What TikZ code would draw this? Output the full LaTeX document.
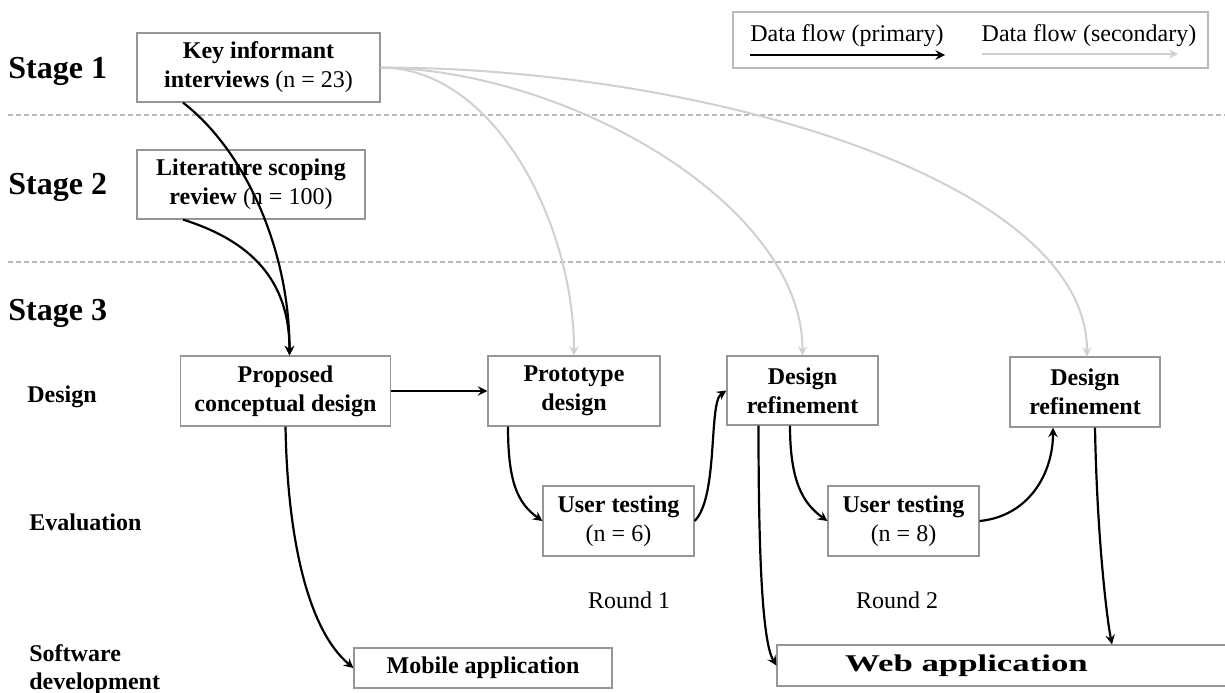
\documentclass[tikz,border=0pt]{standalone}
\usepackage{fontspec}
\setmainfont{Liberation Serif}
\usepackage{graphicx}

\definecolor{boxgray}{RGB}{150,150,150}
\definecolor{flowgray}{RGB}{208,208,208}
\definecolor{sepgray}{RGB}{185,185,185}

\tikzset{
  box/.style={draw=boxgray, line width=0.6pt, fill=white, align=center,
    inner sep=2pt, font=\fontsize{12}{14.5}\selectfont},
  primary/.style={-stealth, line width=1.1pt, black},
  secondary/.style={-stealth, line width=1pt, flowgray},
  sepline/.style={sepgray, line width=0.6pt, dash pattern=on 2.5pt off 1.5pt},
  stagelabel/.style={font=\fontsize{16}{19}\selectfont\bfseries, anchor=base west, inner sep=0pt},
  phaselabel/.style={font=\fontsize{12}{14}\selectfont\bfseries, inner sep=0pt, align=left},
  plain/.style={font=\fontsize{12}{14.5}\selectfont, inner sep=0pt}
}

\begin{document}
\begin{tikzpicture}[x=0.5pt, y=-0.5pt]
\useasboundingbox (0,0) rectangle (1225,692);

% stage separators
\draw[sepline] (8,115) -- (1225,115);
\draw[sepline] (8,262) -- (1225,262);

% row labels
\node[stagelabel] (stA) at (8,78) {Stage 1};
\node[stagelabel] (stB) at (8,194) {Stage 2};
\node[stagelabel] (stC) at (8,320) {Stage 3};
\node[phaselabel, anchor=base west] (design) at (27,402) {Design};
\node[phaselabel, anchor=base west] (eval) at (29,530) {Evaluation};
\node[phaselabel, anchor=west] (soft) at (29,670) {Software\\development};

% legend
\node[draw=sepgray, line width=0.6pt, minimum width=237.5pt, minimum height=28pt] (legend) at (970.5,40) {};
\node[plain] (legPri) at (847,36) {Data flow (primary)};
\node[plain] (legSec) at (1089,36) {Data flow (secondary)};
\coordinate (lpA) at (750,55);
\coordinate (lpB) at (945,55);
\coordinate (lsA) at (982,54);
\coordinate (lsB) at (1178,54);
\draw[primary] (lpA) -- (lpB);
\draw[secondary] (lsA) -- (lsB);

% boxes
\node[box, minimum width=121.5pt, minimum height=34.5pt] (key) at (258.5,67.5)
  {\textbf{Key informant}\\\textbf{interviews} (n = 23)};
\node[box, minimum width=114pt, minimum height=34.5pt] (lit) at (251,184.5)
  {\textbf{Literature scoping}\\\textbf{review} (n = 100)};
\node[box, minimum width=105pt, minimum height=35pt] (prop) at (285.5,391)
  {\textbf{Proposed}\\\textbf{conceptual design}};
\node[box, minimum width=86pt, minimum height=35pt] (proto) at (574,391)
  {\textbf{Prototype}\\\textbf{design}};
\node[box, minimum width=75.5pt, minimum height=34.5pt] (refA) at (802.5,390.5)
  {\textbf{Design}\\\textbf{refinement}};
\node[box, minimum width=75pt, minimum height=35pt] (refB) at (1085,392)
  {\textbf{Design}\\\textbf{refinement}};
\node[box, minimum width=75.5pt, minimum height=35pt] (testA) at (618.5,521)
  {\textbf{User testing}\\(n = 6)};
\node[box, minimum width=75.5pt, minimum height=35pt] (testB) at (903.5,521)
  {\textbf{User testing}\\(n = 8)};
\node[box, minimum width=129pt, minimum height=20pt] (mobile) at (483,668)
  {\textbf{Mobile application}};
\node[box, minimum width=231.5pt, minimum height=20.5pt] (web) at (1008.5,665.5)
  {\scalebox{1.45}[1]{\textbf{Web application}}\hspace*{42pt}};

\node[plain] (roundA) at (629,600) {Round 1};
\node[plain] (roundB) at (897,600) {Round 2};

% secondary flows
\draw[secondary] (key.east) .. controls +(115,0) and +(0,-130) .. (proto.north);
\draw[secondary] (key.east) .. controls +(190,3) and +(0,-150) .. (refA.north);
\draw[secondary] (key.east) .. controls +(320,0) and +(0,-177) .. ([xshift=1pt]refB.north);

% primary flows
\draw[primary] ([xshift=-37.75pt]key.south) .. controls +(62,48) and +(0,-106) .. ([xshift=2pt]prop.north);
\draw[primary] ([xshift=-34pt]lit.south) .. controls +(67,21) and +(0,-76) .. ([xshift=2pt]prop.north);
\draw[primary] (prop.east) -- (proto.west);
\draw[primary] (prop.south) .. controls +(2,114) and +(-45,-38) .. (mobile.west);
\draw[primary] ([xshift=-33pt]proto.south) .. controls +(0,55) and +(-25,-18) .. (testA.west);
\draw[primary] (testA.east) .. controls +(24,-24) and +(-18,12) .. (refA.west);
\draw[primary] ([xshift=-22pt]refA.south) .. controls +(0,115) and +(-15,-25) .. (web.west);
\draw[primary] ([xshift=-6.25pt]refA.south) .. controls +(0,55) and +(-25,-18) .. (testB.west);
\draw[primary] (testB.east) .. controls +(50,-5) and +(0,45) .. ([xshift=-16pt]refB.south);
\draw[primary] ([xshift=5pt]refB.south) .. controls +(2,110) and +(-5,-25) .. ([xshift=51.75pt]web.north);
\end{tikzpicture}
\end{document}
